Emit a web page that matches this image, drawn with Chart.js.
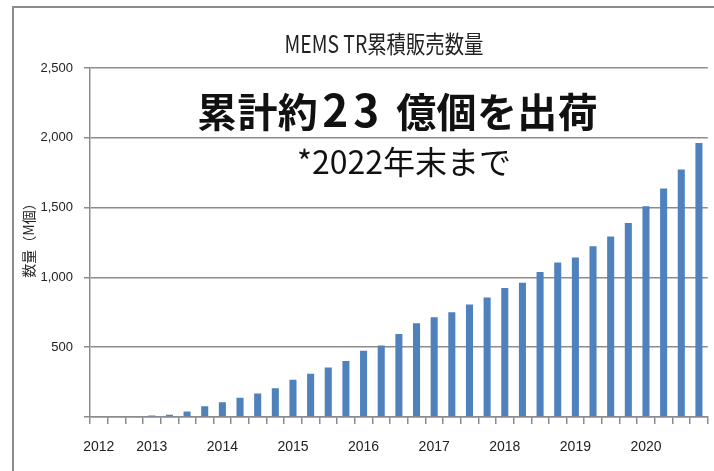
<!DOCTYPE html>
<html>
<head>
<meta charset="utf-8">
<script src="https://cdn.jsdelivr.net/npm/chart.js@4/dist/chart.umd.min.js"></script>
<style>
  html, body { margin: 0; padding: 0; background: #ffffff; }
  #wrap { position: relative; width: 714px; height: 471px; overflow: hidden; }
  canvas { display: block; }
  #headline {
    position: absolute; left: 197px; top: 90px; height: 40px;
    font-family: 'Noto Sans CJK JP', 'Noto Sans', sans-serif;
    font-weight: bold; font-size: 40px; line-height: 40px;
    color: #111111; white-space: nowrap; letter-spacing: 0.4px;
  }
  #headline .num { font-size: 44px; line-height: 0; letter-spacing: 5px; margin-left: 4px; margin-right: 12px; }
</style>
</head>
<body>
<div id="wrap">
  <canvas id="c" width="714" height="471"></canvas>
  <div id="headline"></div>
</div>
<script>
// ---- data ----
const categories = ['2012','','','2013','','','','2014','','','','2015','','','','2016','','','',
                    '2017','','','','2018','','','','2019','','','','2020','','',''];
const cumulativeUnits = [0, 0, 0, 10, 17, 39, 77, 106, 137, 168, 206, 266, 309, 355, 401, 475, 513, 595,
                         672, 715, 751, 806, 856, 924, 962, 1039, 1106, 1142, 1223, 1293, 1389, 1509, 1636, 1773, 1962];
const yTickValues = [0, 500, 1000, 1500, 2000, 2500];
const chartTitle = 'MEMS TR累積販売数量';
const yAxisTitle = '数量（M個）';
const headlineParts = ['累計約', '23', '億個を出荷'];
const footnote = '*2022年末まで';

// headline text (one string: 累計約23億個を出荷), digits styled a little larger like the source
(function () {
  const h = document.getElementById('headline');
  h.appendChild(document.createTextNode(headlineParts[0]));
  const s = document.createElement('span');
  s.className = 'num';
  s.textContent = headlineParts[1];
  h.appendChild(s);
  h.appendChild(document.createTextNode(headlineParts[2]));
})();

const tickFont = "'Liberation Sans', Arial, sans-serif";
const cjkFont = "'Noto Sans CJK JP', 'Noto Sans', sans-serif";
const gridGray = '#8c8c8c';

const decor = {
  id: 'decor',
  beforeDraw(chart) {
    const ctx = chart.ctx;
    ctx.save();
    ctx.fillStyle = '#ffffff';
    ctx.fillRect(0, 0, chart.width, chart.height);
    ctx.strokeStyle = gridGray;
    ctx.lineWidth = 2;
    ctx.beginPath();
    ctx.moveTo(13, chart.height);
    ctx.lineTo(13, 7);
    ctx.lineTo(chart.width, 7);
    ctx.stroke();
    ctx.restore();
  },
  afterDraw(chart) {
    const ctx = chart.ctx;
    ctx.save();
    // chart title, horizontally condensed like the reference
    ctx.font = "24px " + cjkFont;
    ctx.fillStyle = '#222222';
    ctx.textAlign = 'center';
    ctx.textBaseline = 'middle';
    const tw = ctx.measureText(chartTitle).width;
    const sx = 199 / tw;
    ctx.translate(384, 44);
    ctx.scale(sx, 1);
    ctx.fillText(chartTitle, 0, 0);
    ctx.restore();

    // y axis title
    ctx.save();
    ctx.font = "14px " + cjkFont;
    ctx.fillStyle = '#222222';
    ctx.textAlign = 'center';
    ctx.textBaseline = 'middle';
    ctx.translate(29, 237);
    ctx.rotate(-Math.PI / 2);
    ctx.fillText(yAxisTitle, 0, 0);
    ctx.restore();

    ctx.save();
    ctx.fillStyle = '#111111';
    ctx.textAlign = 'center';
    ctx.textBaseline = 'middle';
    ctx.font = "32px " + cjkFont;
    ctx.fillText(footnote, 404, 162);
    ctx.restore();
  }
};

new Chart(document.getElementById('c'), {
  type: 'bar',
  data: {
    labels: categories,
    datasets: [{
      label: chartTitle,
      data: cumulativeUnits,
      backgroundColor: '#4f81bd',
      borderWidth: 0,
      categoryPercentage: 1.0,
      barPercentage: 0.4
    }]
  },
  options: {
    responsive: false,
    animation: false,
    devicePixelRatio: 1,
    layout: { padding: { left: 13, right: 5, top: 68, bottom: 0 } },
    plugins: {
      legend: { display: false },
      title: { display: false },
      tooltip: { enabled: false }
    },
    scales: {
      x: {
        offset: true,
        grid: {
          offset: true,
          drawOnChartArea: false,
          drawTicks: true,
          tickLength: 7,
          color: gridGray,
          lineWidth: 1.5
        },
        border: { display: true, color: gridGray, width: 1.5 },
        ticks: {
          autoSkip: false,
          maxRotation: 0,
          minRotation: 0,
          padding: 15,
          color: '#222222',
          font: { family: tickFont, size: 14 }
        },
        afterFit(scale) { scale.height = 54; }
      },
      y: {
        min: 0,
        max: 2500,
        afterBuildTicks(scale) { scale.ticks = yTickValues.map(v => ({ value: v })); },
        grid: {
          color: gridGray,
          lineWidth: 1.5,
          drawTicks: true,
          tickLength: 6
        },
        border: { display: true, color: gridGray, width: 1.5 },
        ticks: {
          padding: 11,
          color: '#222222',
          font: { family: tickFont, size: 13 },
          callback: (v) => v === 0 ? '' : Number(v).toLocaleString('en-US')
        },
        title: { display: false, text: yAxisTitle },
        afterFit(scale) { scale.width = 77; }
      }
    }
  },
  plugins: [decor]
});
</script>
</body>
</html>
